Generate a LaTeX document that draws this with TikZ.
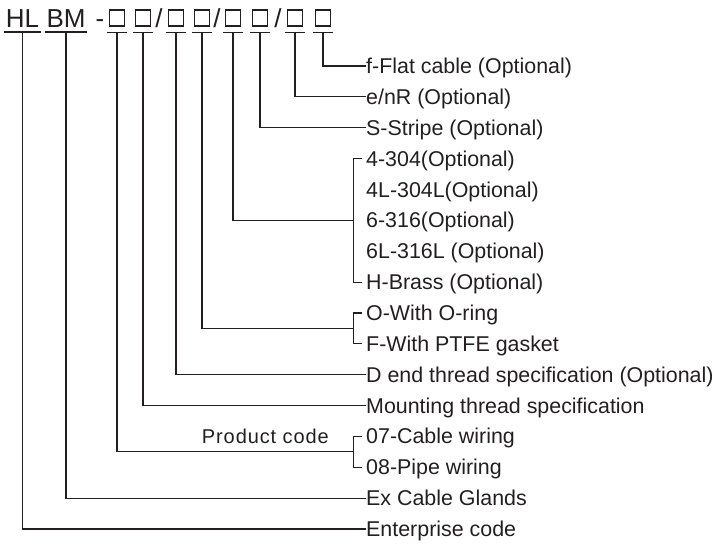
\documentclass[tikz,border=0pt]{standalone}
\usepackage{fontspec}
\setmainfont{Liberation Sans}
\usetikzlibrary{positioning,calc}
\definecolor{ink}{RGB}{35,31,32}

\tikzset{
	wire/.style={draw=ink, line width=1.1pt},
	codetext/.style={inner sep=0pt, text=ink, font=\fontsize{26}{26}\selectfont},
	codebox/.style={draw=ink, line width=1.1pt, minimum width=15pt, minimum height=16pt, inner sep=0pt},
	lbl/.style={anchor=west, inner sep=0pt, text=ink, text height=15pt, text depth=0pt, font=\fontsize{21.4}{21.4}\selectfont},
	smalllbl/.style={inner sep=0pt, text=ink, font=\fontsize{20}{20}\selectfont\addfontfeature{LetterSpace=4.5}},
}

\begin{document}
\begin{tikzpicture}[x=1pt,y=-1pt]
			\useasboundingbox (0,0) rectangle (714,543);

			% model code
			\node[codetext,anchor=base] (hl) at (22.5,28) {HL};
			\node[codetext,anchor=base] (bm) at (66,28) {BM};
			\node[codetext,anchor=base] (dash) at (100,28) {-};
			\node[codebox] (b1) at (117,18) {};
			\node[codebox] (b2) at (143,18) {};
			\node[codetext,anchor=base] (sl1) at (159,28) {/};
			\node[codebox] (b3) at (176,18) {};
			\node[codebox] (b4) at (202,18) {};
			\node[codetext,anchor=base] (sl2) at (217,28) {/};
			\node[codebox] (b5) at (233,18) {};
			\node[codebox] (b6) at (260,18) {};
			\node[codetext,anchor=base] (sl3) at (278,28) {/};
			\node[codebox] (b7) at (295,18) {};
			\node[codebox] (b8) at (323,18) {};

			% underlines
			\draw[wire] ([xshift=-2pt,yshift=-4pt]hl.base west) -- ([xshift=2pt,yshift=-4pt]hl.base east);
			\draw[wire] ([xshift=-1pt,yshift=-4pt]bm.base west) -- ([xshift=1pt,yshift=-4pt]bm.base east);
			\draw[wire] ([xshift=-1.5pt,yshift=-6pt]b1.south west) -- ([xshift=1.5pt,yshift=-6pt]b1.south east);
			\draw[wire] ([xshift=-1.5pt,yshift=-6pt]b2.south west) -- ([xshift=1.5pt,yshift=-6pt]b2.south east);
			\draw[wire] ([xshift=-1.5pt,yshift=-6pt]b3.south west) -- ([xshift=1.5pt,yshift=-6pt]b3.south east);
			\draw[wire] ([xshift=-1.5pt,yshift=-6pt]b4.south west) -- ([xshift=1.5pt,yshift=-6pt]b4.south east);
			\draw[wire] ([xshift=-1.5pt,yshift=-6pt]b5.south west) -- ([xshift=1.5pt,yshift=-6pt]b5.south east);
			\draw[wire] ([xshift=-1.5pt,yshift=-6pt]b6.south west) -- ([xshift=1.5pt,yshift=-6pt]b6.south east);
			\draw[wire] ([xshift=-1.5pt,yshift=-6pt]b7.south west) -- ([xshift=1.5pt,yshift=-6pt]b7.south east);
			\draw[wire] ([xshift=-1.5pt,yshift=-6pt]b8.south west) -- ([xshift=1.5pt,yshift=-6pt]b8.south east);

			\coordinate (uhl) at ([yshift=-4pt]hl.base);
			\coordinate (ubm) at ([yshift=-4pt]bm.base);
			\coordinate (u1) at ([yshift=-6pt]b1.south);
			\coordinate (u2) at ([yshift=-6pt]b2.south);
			\coordinate (u3) at ([yshift=-6pt]b3.south);
			\coordinate (u4) at ([yshift=-6pt]b4.south);
			\coordinate (u5) at ([yshift=-6pt]b5.south);
			\coordinate (u6) at ([yshift=-6pt]b6.south);
			\coordinate (u7) at ([yshift=-6pt]b7.south);
			\coordinate (u8) at ([yshift=-6pt]b8.south);

			% labels
			\node[lbl] (flat)   at (366,66)    {f-Flat cable (Optional)};
			\node[lbl] (enr)    at (366,96.9)  {e/nR (Optional)};
			\node[lbl] (stripe) at (366,127.7) {S-Stripe (Optional)};
			\node[lbl] (m304)   at (366,158.6) {4-304(Optional)};
			\node[lbl] (m304l)  at (366,189.5) {4L-304L(Optional)};
			\node[lbl] (m316)   at (366,220.4) {6-316(Optional)};
			\node[lbl] (m316l)  at (366,251.2) {6L-316L (Optional)};
			\node[lbl] (brass)  at (366,282.1) {H-Brass (Optional)};
			\node[lbl] (oring)  at (366,313)   {O-With O-ring};
			\node[lbl] (ptfe)   at (366,343.8) {F-With PTFE gasket};
			\node[lbl] (dend)   at (366,374.7) {D end thread specification (Optional)};
			\node[lbl] (mount)  at (366,405.6) {Mounting thread specification};
			\node[lbl] (cable)  at (366,436.4) {07-Cable wiring};
			\node[lbl] (pipe)   at (366,467.3) {08-Pipe wiring};
			\node[lbl] (glands) at (366,498.2) {Ex Cable Glands};
			\node[lbl] (ent)    at (366,529)   {Enterprise code};

			% brackets
			\draw[wire] ([xshift=-4.5pt]m304.west) -- ++(-8,0) |- ([xshift=-4.5pt]brass.west);
			\draw[wire] ([xshift=-4.5pt]oring.west) -- ++(-8,0) |- ([xshift=-4.5pt]ptfe.west);
			\draw[wire] ([xshift=-4.5pt]cable.west) -- ++(-8,0) |- ([xshift=-4.5pt]pipe.west);
			\coordinate (jm) at ([xshift=-12.5pt]m316.west);
			\coordinate (jo) at ([xshift=-12.5pt]$(oring.west)!.5!(ptfe.west)$);
			\coordinate (jp) at ([xshift=-12.5pt]$(cable.west)!.5!(pipe.west)$);

			% leaders
			\draw[wire] (u8) |- (flat.west);
			\draw[wire] (u7) |- (enr.west);
			\draw[wire] (u6) |- (stripe.west);
			\draw[wire] (u5) |- (jm);
			\draw[wire] (u4) |- (jo);
			\draw[wire] (u3) |- (dend.west);
			\draw[wire] (u2) |- (mount.west);
			\draw[wire] (u1) |- (jp);
			\draw[wire] (ubm) |- (glands.west);
			\draw[wire] (uhl) |- (ent.west);

			\node[smalllbl,anchor=base east] (pcode) at ([xshift=-24.5pt,yshift=8.5pt]jp) {Product code};

		\end{tikzpicture}
\end{document}
